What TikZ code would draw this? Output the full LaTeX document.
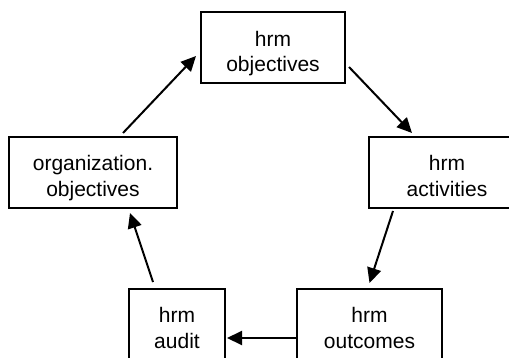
\documentclass[tikz,border=0pt]{standalone}
\usepackage{fontspec}
\setmainfont{Liberation Sans}
\usepackage{xcolor}
\usepackage{tikz}
\usetikzlibrary{calc,arrows.meta}
\definecolor{bg}{HTML}{FFFFFF}
\definecolor{ink}{HTML}{000000}
\tikzset{
  box/.style={draw=ink, line width=1pt, rectangle, inner sep=0pt,
    minimum height=35.5pt, align=center, text=ink,
    font=\fontsize{10.5}{12.6}\selectfont,
    text height=26.6pt, text depth=3pt},
  link/.style={draw=ink, line width=1pt, -{Triangle[length=7.5pt, width=7pt]}},
}
\begin{document}
\begin{tikzpicture}[x=0.5pt, y=-0.5pt]
  \fill[bg] (0,0) rectangle (509,358);
  \clip (0,0) rectangle (509,358);
  \node[box, minimum width=72pt] (obj) at (273,48) {hrm\\objectives};
  \node[box, minimum width=84pt] (org) at (93,172.5) {organization.\\objectives};
  \node[box, minimum width=78pt] (act) at (447,172.5) {hrm\\activities};
  \node[box, minimum width=48pt] (aud) at (177,324.5) {hrm\\audit};
  \node[box, minimum width=72.5pt] (out) at (369.5,324.5) {hrm\\outcomes};
  \draw[link] ($(org.north)+(30,-3)$) -- ($(obj.west)+(-4,8)$);
  \draw[link] ($(obj.east)+(3,19)$) -- ($(act.north)+(-35,-3)$);
  \draw[link] ($(act.south)+(-54,2)$) -- ($(out.north)+(0,-5)$);
  \draw[link] ($(out.west)+(0,13.5)$) -- ($(aud.east)+(1,13.5)$);
  \draw[link] ($(aud.north)+(-24,-6)$) -- ($(org.south)+(37,4)$);
\end{tikzpicture}
\end{document}
